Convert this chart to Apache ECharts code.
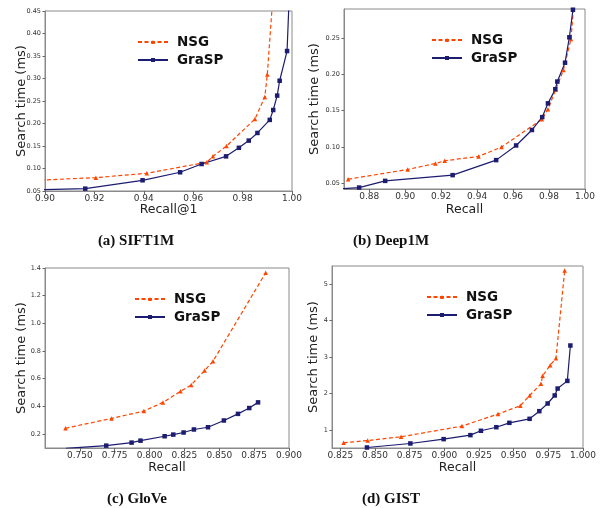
<!DOCTYPE html>
<html>
<head>
<meta charset="utf-8">
<script src="https://cdn.jsdelivr.net/npm/echarts@6/dist/echarts.min.js"></script>
<style>
html,body{margin:0;padding:0;background:#fff;}
#chart{width:604px;height:508px;}
</style>
</head>
<body>
<div id="chart"></div>
<script>
// ---- (a) SIFT1M ----
const siftNsgRecall = [0.885, 0.9206, 0.9412, 0.9655, 0.968, 0.9735, 0.985, 0.989, 0.990, 0.9925];
const siftNsgTime   = [0.071, 0.0797, 0.0894, 0.114, 0.127, 0.150, 0.210, 0.259, 0.309, 0.50];
const siftGraspRecall = [0.88, 0.9163, 0.9395, 0.9547, 0.9634, 0.9733, 0.9785, 0.9825, 0.986, 0.991, 0.9924, 0.994, 0.995, 0.998, 0.999];
const siftGraspTime   = [0.0505, 0.0552, 0.0738, 0.0916, 0.110, 0.127, 0.146, 0.162, 0.179, 0.208, 0.230, 0.262, 0.295, 0.361, 0.50];
const siftXTicks = [0.90, 0.92, 0.94, 0.96, 0.98, 1.00];
const siftYTicks = [0.05, 0.10, 0.15, 0.20, 0.25, 0.30, 0.35, 0.40, 0.45];

// ---- (b) Deep1M ----
const deepNsgRecall = [0.8683, 0.9014, 0.9168, 0.922, 0.9408, 0.9536, 0.976, 0.9794, 0.9837, 0.988, 0.9922, 0.9942];
const deepNsgTime   = [0.0555, 0.0689, 0.0772, 0.0809, 0.0869, 0.0998, 0.138, 0.152, 0.179, 0.206, 0.2486, 0.31];
const deepGraspRecall = [0.862, 0.8744, 0.8889, 0.9264, 0.9506, 0.9617, 0.9705, 0.9762, 0.9794, 0.9835, 0.9846, 0.9889, 0.9913, 0.9933, 0.9938];
const deepGraspTime   = [0.0418, 0.044, 0.0532, 0.0611, 0.0818, 0.102, 0.1233, 0.141, 0.160, 0.1795, 0.190, 0.216, 0.251, 0.289, 0.31];
const deepXTicks = [0.88, 0.90, 0.92, 0.94, 0.96, 0.98, 1.00];
const deepYTicks = [0.05, 0.10, 0.15, 0.20, 0.25];

// ---- (c) GloVe ----
const gloveNsgRecall = [0.7397, 0.7727, 0.7959, 0.8096, 0.8222, 0.8299, 0.8395, 0.8455, 0.8833];
const gloveNsgTime   = [0.241, 0.312, 0.365, 0.428, 0.508, 0.554, 0.658, 0.726, 1.366];
const gloveGraspRecall = [0.740, 0.7689, 0.7871, 0.7935, 0.8108, 0.817, 0.8244, 0.8318, 0.8419, 0.8533, 0.8634, 0.8715, 0.8778];
const gloveGraspTime   = [0.095, 0.115, 0.137, 0.151, 0.183, 0.195, 0.210, 0.232, 0.248, 0.297, 0.345, 0.387, 0.428];
const gloveXTicks = [0.750, 0.775, 0.800, 0.825, 0.850, 0.875, 0.900];
const gloveYTicks = [0.2, 0.4, 0.6, 0.8, 1.0, 1.2, 1.4];

// ---- (d) GIST ----
const gistNsgRecall = [0.8274, 0.8447, 0.8688, 0.9127, 0.9387, 0.9548, 0.9615, 0.9697, 0.9709, 0.9764, 0.9805, 0.9868];
const gistNsgTime   = [0.652, 0.716, 0.817, 1.11, 1.44, 1.67, 1.95, 2.27, 2.49, 2.78, 2.97, 5.38];
const gistGraspRecall = [0.8442, 0.8755, 0.8995, 0.9188, 0.9264, 0.9375, 0.9469, 0.9615, 0.9685, 0.9745, 0.9796, 0.9817, 0.9887, 0.9909];
const gistGraspTime   = [0.524, 0.634, 0.753, 0.863, 0.982, 1.08, 1.20, 1.31, 1.52, 1.73, 1.95, 2.14, 2.35, 3.32];
const gistXTicks = [0.825, 0.850, 0.875, 0.900, 0.925, 0.950, 0.975, 1.000];
const gistYTicks = [1, 2, 3, 4, 5];

const captions = ['(a) SIFT1M', '(b) Deep1M', '(c) GloVe', '(d) GIST'];
const xNames = ['Recall@1', 'Recall', 'Recall', 'Recall'];
const yName = 'Search time (ms)';
const seriesNames = ['NSG', 'GraSP'];

const NSG_COLOR = '#ff4500';
const GRASP_COLOR = '#1c1c70';
const FONT = 'DejaVu Sans';

function pairs(xs, ys) { return xs.map((x, i) => [x, ys[i]]); }

const panels = [
  { grid: {left: 45, top: 11, width: 247, height: 180}, xMin: 0.90, xMax: 1.00, yMin: 0.05, yMax: 0.45,
    xTicks: siftXTicks, yTicks: siftYTicks, xDec: 2, yDec: 2, yGap: 17, xGap: 12,
    legend: {left: 137, top: 35}, caption: {x: 136, y: 234},
    nsg: pairs(siftNsgRecall, siftNsgTime), grasp: pairs(siftGraspRecall, siftGraspTime) },
  { grid: {left: 344, top: 9, width: 241, height: 180}, xMin: 0.866, xMax: 1.00, yMin: 0.042, yMax: 0.29,
    xTicks: deepXTicks, yTicks: deepYTicks, xDec: 2, yDec: 2, yGap: 23, xGap: 14,
    legend: {left: 431, top: 33}, caption: {x: 391, y: 234},
    nsg: pairs(deepNsgRecall, deepNsgTime), grasp: pairs(deepGraspRecall, deepGraspTime) },
  { grid: {left: 45, top: 268, width: 244, height: 180}, xMin: 0.725, xMax: 0.900, yMin: 0.098, yMax: 1.4,
    xTicks: gloveXTicks, yTicks: gloveYTicks, xDec: 3, yDec: 1, yGap: 17, xGap: 13,
    legend: {left: 134, top: 292}, caption: {x: 137, y: 492},
    nsg: pairs(gloveNsgRecall, gloveNsgTime), grasp: pairs(gloveGraspRecall, gloveGraspTime) },
  { grid: {left: 332, top: 266, width: 251, height: 182}, xMin: 0.819, xMax: 1.000, yMin: 0.51, yMax: 5.5,
    xTicks: gistXTicks, yTicks: gistYTicks, xDec: 3, yDec: 0, yGap: 12, xGap: 13,
    legend: {left: 426, top: 290}, caption: {x: 391, y: 492},
    nsg: pairs(gistNsgRecall, gistNsgTime), grasp: pairs(gistGraspRecall, gistGraspTime) }
];

const option = { animation: false, backgroundColor: '#fff', grid: [], xAxis: [], yAxis: [], series: [], legend: [], title: [] };

panels.forEach((p, i) => {
  option.grid.push(Object.assign({ show: true, borderColor: '#8a8a8a', borderWidth: 1, containLabel: false }, p.grid));
  option.xAxis.push({
    type: 'value', gridIndex: i, min: p.xMin, max: p.xMax,
    name: xNames[i], nameLocation: 'middle', nameGap: p.xGap, nameMoveOverlap: false,
    nameTextStyle: { fontFamily: FONT, fontSize: 12.5, color: '#222' },
    axisLine: { show: true, onZero: false, lineStyle: { color: '#8a8a8a', width: 1 } },
    axisTick: { show: true, length: 3, lineStyle: { color: '#666' }, customValues: p.xTicks },
    axisLabel: { fontFamily: FONT, fontSize: 9, color: '#333', margin: 3, customValues: p.xTicks,
      formatter: v => v.toFixed(p.xDec), showMinLabel: true, showMaxLabel: true, hideOverlap: false },
    splitLine: { show: false }
  });
  option.yAxis.push({
    type: 'value', gridIndex: i, min: p.yMin, max: p.yMax,
    name: yName, nameLocation: 'middle', nameGap: p.yGap, nameRotate: 90, nameMoveOverlap: false,
    nameTextStyle: { fontFamily: FONT, fontSize: 13, color: '#222' },
    axisLine: { show: true, onZero: false, lineStyle: { color: '#8a8a8a', width: 1 } },
    axisTick: { show: true, length: 2.5, lineStyle: { color: '#666' }, customValues: p.yTicks },
    axisLabel: { fontFamily: FONT, fontSize: 6.5, color: '#333', margin: 4, customValues: p.yTicks,
      formatter: v => v.toFixed(p.yDec), showMinLabel: true, showMaxLabel: true, hideOverlap: false },
    splitLine: { show: false }
  });
  option.series.push({
    name: seriesNames[0], type: 'line', xAxisIndex: i, yAxisIndex: i, data: p.nsg, clip: true,
    symbol: 'triangle', symbolSize: 4.5, color: NSG_COLOR,
    lineStyle: { color: NSG_COLOR, width: 1.2, type: [4, 2.5] },
    itemStyle: { color: NSG_COLOR }
  });
  option.series.push({
    name: seriesNames[1], type: 'line', xAxisIndex: i, yAxisIndex: i, data: p.grasp, clip: true,
    symbol: 'rect', symbolSize: 4.5, color: GRASP_COLOR,
    lineStyle: { color: GRASP_COLOR, width: 1.2 },
    itemStyle: { color: GRASP_COLOR }
  });
  option.legend.push({
    data: seriesNames, left: p.legend.left, top: p.legend.top, orient: 'vertical',
    itemWidth: 30, itemHeight: 5, itemGap: 4, padding: 0, selectedMode: false,
    textStyle: { fontFamily: FONT, fontSize: 13.5, fontWeight: 'bold', color: '#111', padding: [0, 0, 0, 4] }
  });
  option.title.push({
    text: captions[i], left: p.caption.x, top: p.caption.y, textAlign: 'center', padding: 0,
    textStyle: { fontFamily: 'Liberation Serif', fontSize: 15, fontWeight: 'bold', color: '#111' }
  });
});

const chart = echarts.init(document.getElementById('chart'), null, { renderer: 'canvas' });
chart.setOption(option);
</script>
</body>
</html>
